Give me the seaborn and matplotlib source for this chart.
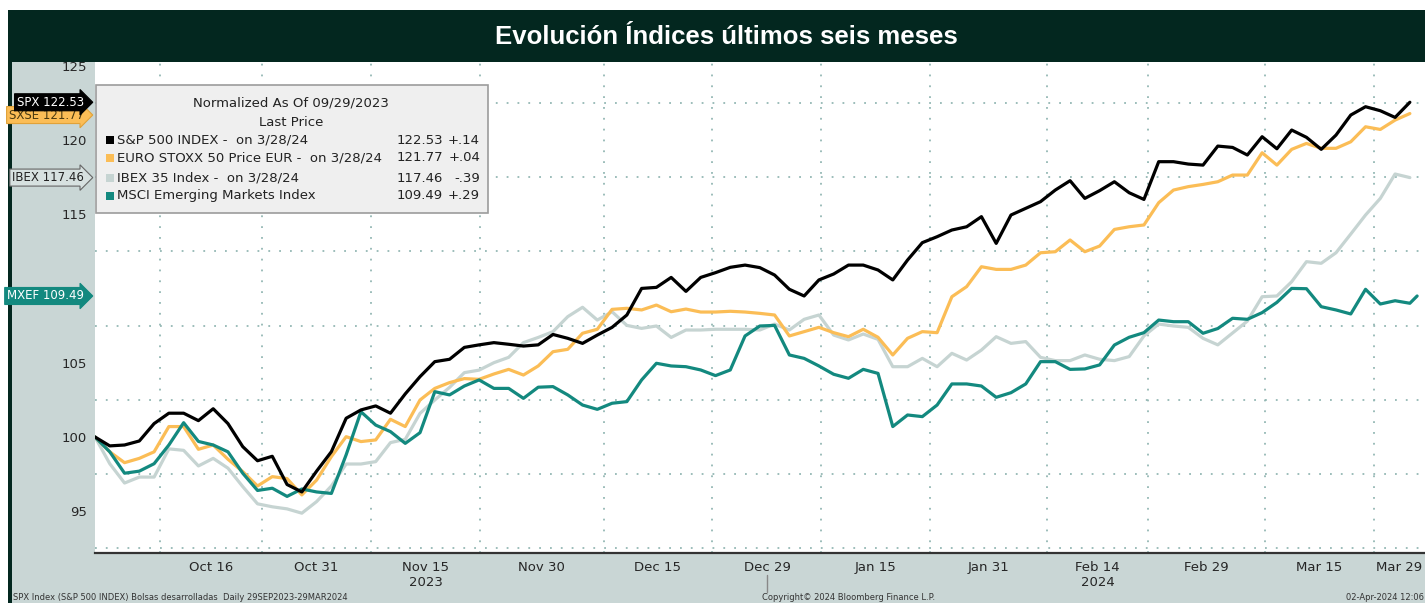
import matplotlib
matplotlib.use("Agg")
import matplotlib.pyplot as plt
import matplotlib.dates as mdates
import matplotlib.transforms as mtransforms
from matplotlib.patches import Rectangle
import pandas as pd
import seaborn as sns

TITLE = "Evolución Índices últimos seis meses"

# roughly every second calendar day, normalized to 100 on 09/29/2023
dates = pd.date_range("2023-09-29", "2024-03-28", periods=90)
mxef_dates = dates.append(pd.DatetimeIndex(["2024-03-29"]))

spx = [100.0, 99.4, 99.46, 99.73, 100.9, 101.6, 101.6, 101.1, 101.9, 100.9,
       99.35, 98.4, 98.7, 96.8, 96.3, 97.7, 99.01, 101.26, 101.82, 102.09,
       101.6, 102.9, 104.06, 105.07, 105.23, 106.03, 106.2, 106.35, 106.24, 106.12,
       106.2, 106.9, 106.64, 106.3, 106.86, 107.38, 108.21, 110.0, 110.07, 110.74,
       109.8, 110.74, 111.06, 111.42, 111.57, 111.4, 110.9, 109.94, 109.49, 110.57,
       110.97, 111.57, 111.57, 111.24, 110.57, 111.91, 113.08, 113.48, 113.93, 114.15,
       114.83, 113.03, 114.94, 115.39, 115.84, 116.62, 117.25, 116.06, 116.58, 117.18,
       116.44, 115.99, 118.53, 118.53, 118.37, 118.3, 119.58, 119.49, 118.98, 120.21,
       119.4, 120.66, 120.17, 119.36, 120.32, 121.67, 122.23, 121.96, 121.51, 122.53]

sxse = [100.0, 99.0, 98.27, 98.56, 99.0, 100.7, 100.7, 99.17, 99.46, 98.5,
        97.67, 96.7, 97.33, 97.2, 96.1, 97.1, 98.68, 100.02, 99.69, 99.8,
        101.19, 100.7, 102.49, 103.27, 103.66, 103.93, 103.88, 104.24, 104.55, 104.17,
        104.78, 105.74, 105.9, 106.98, 107.25, 108.59, 108.66, 108.55, 108.88, 108.43,
        108.61, 108.41, 108.41, 108.46, 108.41, 108.32, 108.21, 106.8, 107.09, 107.38,
        107.02, 106.75, 107.25, 106.71, 105.52, 106.64, 107.09, 107.02, 109.44, 110.12,
        111.46, 111.28, 111.28, 111.57, 112.4, 112.47, 113.26, 112.47, 112.85, 113.97,
        114.15, 114.27, 115.77, 116.62, 116.85, 117.0, 117.18, 117.63, 117.63, 119.13,
        118.3, 119.36, 119.76, 119.43, 119.43, 119.87, 120.88, 120.7, 121.33, 121.77]

ibex = [100.0, 98.2, 96.9, 97.3, 97.3, 99.2, 99.1, 98.05, 98.56, 97.9,
        96.66, 95.5, 95.3, 95.16, 94.87, 95.65, 96.7, 98.18, 98.18, 98.34,
        99.62, 99.84, 101.59, 102.49, 103.34, 104.33, 104.5, 105.0, 105.36, 106.35,
        106.7, 107.09, 108.1, 108.73, 107.87, 108.43, 107.51, 107.31, 107.47, 106.7,
        107.2, 107.2, 107.25, 107.25, 107.25, 107.2, 107.6, 107.2, 107.92, 108.21,
        106.86, 106.53, 106.93, 106.57, 104.73, 104.73, 105.29, 104.73, 105.63, 105.18,
        105.85, 106.75, 106.3, 106.42, 105.36, 105.14, 105.14, 105.52, 105.23, 105.14,
        105.41, 106.8, 107.6, 107.47, 107.38, 106.64, 106.2, 107.0, 107.8, 109.44,
        109.49, 110.45, 111.8, 111.69, 112.4, 113.66, 114.94, 116.06, 117.7, 117.46]

mxef = [100.0, 99.0, 97.56, 97.7, 98.2, 99.46, 100.96, 99.7, 99.46, 99.0,
        97.56, 96.4, 96.55, 96.0, 96.5, 96.3, 96.2, 98.8, 101.7, 100.8,
        100.36, 99.57, 100.29, 103.05, 102.83, 103.43, 103.84, 103.27, 103.27, 102.6,
        103.35, 103.39, 102.83, 102.15, 101.86, 102.27, 102.38, 103.84, 104.96, 104.78,
        104.73, 104.51, 104.13, 104.51, 106.8, 107.47, 107.51, 105.52, 105.29, 104.78,
        104.22, 103.95, 104.55, 104.28, 100.7, 101.48, 101.37, 102.15, 103.57, 103.57,
        103.43, 102.67, 102.98, 103.57, 105.07, 105.07, 104.55, 104.58, 104.85, 106.19,
        106.71, 107.02, 107.87, 107.76, 107.76, 106.98, 107.3, 107.99, 107.92, 108.37,
        109.06, 110.0, 109.98, 108.77, 108.55, 108.28, 109.94, 108.95, 109.17, 109.0,
        109.49]

# drawing order: last one ends on top
order = ["IBEX", "SXSE", "MXEF", "SPX"]
colors = {"SPX": "#000000", "SXSE": "#fbbd56", "IBEX": "#c6d4d2", "MXEF": "#13897f"}

tag_text = {"SPX": "SPX 122.53", "SXSE": "SXSE 121.77", "IBEX": "IBEX 117.46", "MXEF": "MXEF 109.49"}
tag_value = {"SPX": 122.53, "SXSE": 121.77, "IBEX": 117.46, "MXEF": 109.49}

legend_names = ["S&P 500 INDEX -  on 3/28/24", "EURO STOXX 50 Price EUR -  on 3/28/24",
                "IBEX 35 Index -  on 3/28/24", "MSCI Emerging Markets Index"]
legend_keys = ["SPX", "SXSE", "IBEX", "MXEF"]
legend_last = ["122.53", "121.77", "117.46", "109.49"]
legend_chg = ["+.14", "+.04", "-.39", "+.29"]

y_ticks = [95, 100, 105, 110, 115, 120, 125]
y_labels = ["95", "100", "105", "", "115", "120", "125"]  # 110 sits under the MXEF tag

grid_dates = ["2023-10-08", "2023-10-22", "2023-11-06", "2023-11-21", "2023-12-08", "2023-12-23",
              "2024-01-07", "2024-01-22", "2024-02-07", "2024-02-21", "2024-03-08", "2024-03-23"]
tick_names = ["Oct 16", "Oct 31", "Nov 15", "Nov 30", "Dec 15", "Dec 29",
              "Jan 15", "Jan 31", "Feb 14", "Feb 29", "Mar 15", "Mar 29"]
years = {"Nov 15": "2023", "Feb 14": "2024"}

x_start, x_end = pd.Timestamp("2023-09-29"), pd.Timestamp("2024-03-30 02:00")
y_min, y_max = 92.19, 125.24

frames = []
for key, d, v in [("SPX", dates, spx), ("SXSE", dates, sxse), ("IBEX", dates, ibex), ("MXEF", mxef_dates, mxef)]:
    frames.append(pd.DataFrame({"date": d, "value": v, "index": key}))
df = pd.concat(frames, ignore_index=True)

sns.set_style("white")
plt.rcParams["font.family"] = ["DejaVu Sans"]

W, H = 1425, 603
fig = plt.figure(figsize=(W / 100, H / 100), dpi=100, facecolor="white")

panel = "#c9d6d5"
dark = "#03271f"
# grey frame around the plot, dark title bar and left edge (behind the axes)
fig.patches.append(Rectangle((12 / W, 0), 1 - 12 / W, 541 / H, transform=fig.transFigure, fc=panel, ec="none", zorder=-5))
fig.patches.append(Rectangle((8 / W, 0), 4 / W, 593 / H, transform=fig.transFigure, fc=dark, ec="none", zorder=-5))
fig.patches.append(Rectangle((8 / W, 541 / H), 1 - 8 / W, 52 / H, transform=fig.transFigure, fc=dark, ec="none", zorder=-5))
fig.text(726 / W, 566 / H, TITLE, color="white", fontsize=18.5, fontweight="bold",
         family=["Liberation Sans", "DejaVu Sans"], ha="center", va="center")

ax = fig.add_axes([95 / W, 50 / H, 1330 / W, 491 / H])
ax.set_facecolor("white")

sns.lineplot(data=df, x="date", y="value", hue="index", hue_order=order, palette=colors,
             linewidth=2.3, estimator=None, errorbar=None, legend=False, ax=ax)

ax.set_xlim(x_start, x_end)
ax.set_ylim(y_min, y_max)
ax.set_xlabel("")
ax.set_ylabel("")

grid_color = "#94b8b4"
dots = (0, (1.0, 5.0))

# y axis: labels every 5, dotted lines half way between
ax.set_yticks(y_ticks)
ax.set_yticklabels(y_labels)
ax.set_yticks([92.5, 97.5, 102.5, 107.5, 112.5, 117.5, 122.5], minor=True)
ax.tick_params(axis="y", which="major", length=4, width=1.6, color="black", labelsize=9.5, pad=2)
ax.tick_params(axis="y", which="minor", length=0)
ax.grid(True, axis="y", which="minor", color=grid_color, linestyle=dots, linewidth=1.3)

# x axis: dotted separators, names centered between them
grid_ts = pd.to_datetime(grid_dates)
edges = list(grid_ts) + [x_end]
label_ts = [edges[i] + (edges[i + 1] - edges[i]) / 2 for i in range(len(grid_ts))]
ax.set_xticks(mdates.date2num(grid_ts))
ax.set_xticklabels([])
ax.set_xticks(mdates.date2num(label_ts), minor=True)
ax.set_xticklabels(tick_names, minor=True)
ax.tick_params(axis="x", which="major", length=5, width=1.2, color="#444")
ax.tick_params(axis="x", which="minor", length=0, labelsize=9.5, pad=6)
ax.grid(True, axis="x", which="major", color=grid_color, linestyle=dots, linewidth=1.3)

for side in ["top", "right", "left"]:
    ax.spines[side].set_visible(False)
ax.spines["bottom"].set_color("#333")
ax.spines["bottom"].set_linewidth(1.6)

trans_xa = mtransforms.blended_transform_factory(ax.transData, ax.transAxes)
for name, ts in zip(tick_names, label_ts):
    if name in years:
        ax.text(ts, -0.06, years[name], transform=trans_xa, ha="center", va="center", fontsize=9.5)
dec_pos = label_ts[tick_names.index("Dec 29")]
ax.plot([dec_pos, dec_pos], [-0.045, -0.08], transform=trans_xa, color="#888", lw=1, clip_on=False)

# value tags on the left axis
trans_ay = mtransforms.blended_transform_factory(ax.transAxes, ax.transData)
tag_style = {
    "SXSE": dict(fc="#fbbd56", ec="#e0a23a", tc="#4a3a10"),
    "SPX": dict(fc="#000000", ec="#000000", tc="white"),
    "IBEX": dict(fc="#d7e1e0", ec="#666", tc="#222"),
    "MXEF": dict(fc="#13897f", ec="#13897f", tc="white"),
}
for i, key in enumerate(["SXSE", "SPX", "IBEX", "MXEF"]):
    st = tag_style[key]
    y = tag_value[key] - (0.1 if key == "SXSE" else 0)
    ax.text(-0.0085, y, tag_text[key], transform=trans_ay, ha="right", va="center",
            fontsize=8.5, color=st["tc"], zorder=10 + i, clip_on=False,
            bbox=dict(boxstyle="rarrow,pad=0.17", fc=st["fc"], ec=st["ec"], lw=0.8))

# legend box drawn by hand
ax.add_patch(Rectangle((0.0008, 0.6925), 0.2947, 0.2605, transform=ax.transAxes,
                       fc="#efefef", ec="#9c9c9c", lw=1.2, zorder=20))
ax.text(0.1474, 0.9165, "Normalized As Of 09/29/2023", transform=ax.transAxes, ha="center",
        va="center", fontsize=9.5, color="#222", zorder=21)
ax.text(0.1474, 0.8778, "Last Price", transform=ax.transAxes, ha="center", va="center",
        fontsize=9.5, color="#222", zorder=21)
row_y = [0.8411, 0.8045, 0.7637, 0.7271]
for yy, key, nm, last, chg in zip(row_y, legend_keys, legend_names, legend_last, legend_chg):
    ax.add_patch(Rectangle((0.0085, yy - 0.008), 0.0058, 0.016, transform=ax.transAxes,
                           fc=colors[key], ec="none", zorder=21))
    ax.text(0.0165, yy, nm, transform=ax.transAxes, ha="left", va="center", fontsize=9.5,
            color="#222", zorder=21)
    ax.text(0.2617, yy, last, transform=ax.transAxes, ha="right", va="center", fontsize=9.5,
            color="#222", zorder=21)
    ax.text(0.2895, yy, chg, transform=ax.transAxes, ha="right", va="center", fontsize=9.5,
            color="#222", zorder=21)

# footer
fig.text(13 / W, 6 / H, "SPX Index (S&P 500 INDEX) Bolsas desarrolladas  Daily 29SEP2023-29MAR2024",
         fontsize=6, color="#333", ha="left", va="center")
fig.text(762 / W, 6 / H, "Copyright\u00a9 2024 Bloomberg Finance L.P.", fontsize=6, color="#333",
         ha="left", va="center")
fig.text(1424 / W, 6 / H, "02-Apr-2024 12:06", fontsize=6, color="#333", ha="right", va="center")

fig.savefig("out.png", dpi=100, facecolor="white")
